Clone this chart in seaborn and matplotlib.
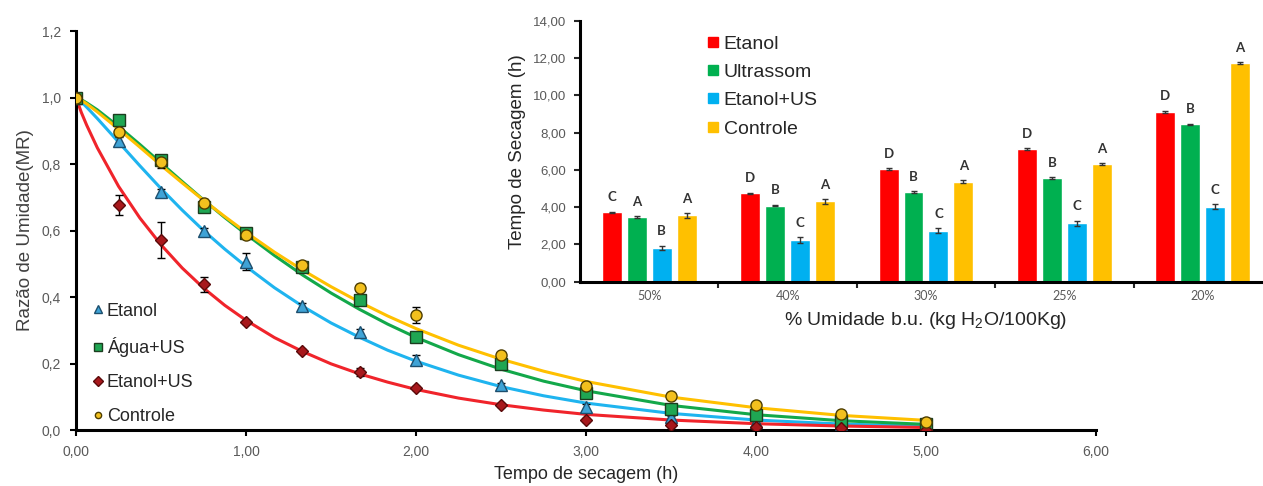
import numpy as np
import pandas as pd
import matplotlib
matplotlib.use("Agg")
import matplotlib.pyplot as plt
from matplotlib.lines import Line2D
from matplotlib.ticker import FuncFormatter, FixedLocator
import seaborn as sns

sns.set_style("white")
plt.rcParams['font.family'] = ['Liberation Sans', 'DejaVu Sans']
plt.rcParams['mathtext.default'] = 'regular'

# ---- drying curves (main chart) ----
t_pts = [0, 0.25, 0.5, 0.75, 1.0, 1.33, 1.67, 2.0, 2.5, 3.0, 3.5, 4.0, 4.5, 5.0]
etanol_mr = [1.0, 0.87, 0.715, 0.60, 0.506, 0.374, 0.294, 0.212, 0.134, 0.068, 0.038, 0.025, 0.015, 0.008]
etanol_err = [0, 0.012, 0.01, 0.008, 0.025, 0.008, 0.01, 0.015, 0.008, 0.01, 0.005, 0.005, 0.003, 0.003]
agua_mr = [1.0, 0.932, 0.812, 0.670, 0.593, 0.49, 0.39, 0.28, 0.20, 0.112, 0.062, 0.044, 0.026, 0.017]
agua_err = [0, 0.005, 0.01, 0.012, 0.01, 0.008, 0.01, 0.012, 0.01, 0.012, 0.008, 0.005, 0.005, 0.005]
etus_mr = [1.0, 0.678, 0.571, 0.438, 0.326, 0.239, 0.173, 0.127, 0.075, 0.030, 0.015, 0.008, 0.005, 0.0]
etus_err = [0, 0.03, 0.055, 0.022, 0.006, 0.006, 0.012, 0.006, 0.006, 0.006, 0.006, 0.004, 0.003, 0.003]
ctrl_mr = [1.0, 0.897, 0.807, 0.684, 0.586, 0.495, 0.428, 0.346, 0.226, 0.132, 0.103, 0.075, 0.048, 0.025]
ctrl_err = [0, 0.01, 0.02, 0.012, 0.01, 0.008, 0.01, 0.025, 0.01, 0.01, 0.008, 0.006, 0.006, 0.006]

# fitted curves
t_fit = [0, 0.03125, 0.0625, 0.125, 0.25, 0.375, 0.5, 0.625, 0.75, 0.875, 1.0, 1.167, 1.333,
         1.5, 1.667, 1.833, 2.0, 2.25, 2.5, 2.75, 3.0, 3.5, 4.0, 4.5, 5.0]
etus_fit = [1.0, 0.955, 0.917, 0.849, 0.733, 0.638, 0.557, 0.487, 0.427, 0.375, 0.33, 0.278, 0.236,
            0.199, 0.169, 0.144, 0.122, 0.096, 0.076, 0.060, 0.047, 0.030, 0.019, 0.012, 0.0076]
etanol_fit = [1.0, 0.987, 0.971, 0.937, 0.866, 0.795, 0.726, 0.661, 0.600, 0.544, 0.492, 0.428, 0.372,
              0.322, 0.279, 0.240, 0.207, 0.165, 0.1305, 0.103, 0.081, 0.050, 0.030, 0.018, 0.011]
agua_fit = [1.0, 0.9935, 0.984, 0.963, 0.913, 0.859, 0.803, 0.747, 0.692, 0.639, 0.589, 0.525, 0.466,
            0.412, 0.363, 0.3185, 0.2785, 0.2266, 0.183, 0.147, 0.118, 0.074, 0.046, 0.028, 0.017]
ctrl_fit = [1.0, 0.9916, 0.981, 0.957, 0.905, 0.851, 0.796, 0.743, 0.691, 0.642, 0.5945, 0.535, 0.481,
            0.431, 0.385, 0.343, 0.305, 0.255, 0.213, 0.177, 0.146, 0.099, 0.067, 0.044, 0.029]

# ---- drying time bars (inset) ----
moisture_levels = ["50%", "40%", "30%", "25%", "20%"]
treatments = ["Etanol", "Ultrassom", "Etanol+US", "Controle"]
etanol_h = [3.72, 4.74, 6.05, 7.12, 9.12]
ultrassom_h = [3.47, 4.08, 4.81, 5.55, 8.44]
etanol_us_h = [1.82, 2.24, 2.74, 3.13, 4.02]
controle_h = [3.56, 4.31, 5.37, 6.31, 11.72]
etanol_sd = [0.03, 0.03, 0.04, 0.04, 0.05]
ultrassom_sd = [0.03, 0.04, 0.03, 0.04, 0.03]
etanol_us_sd = [0.12, 0.15, 0.13, 0.15, 0.13]
controle_sd = [0.12, 0.12, 0.08, 0.06, 0.05]
etanol_lt = ["C", "D", "D", "D", "D"]
ultrassom_lt = ["A", "B", "B", "B", "B"]
etanol_us_lt = ["B", "C", "C", "C", "C"]
controle_lt = ["A", "A", "A", "A", "A"]

gray = "#595959"
calibri_like = ['Lato', 'DejaVu Sans']

fig = plt.figure(figsize=(12.63, 4.86), dpi=100)
ax = fig.add_axes([0.0602, 0.1152, 0.8076, 0.8210])

series = [
    ("Etanol", etanol_mr, etanol_err, etanol_fit, "#1fb4ef", "^", "#3fa3d6", "#1d4f6e", 8.5),
    ("Água+US", agua_mr, agua_err, agua_fit, "#13a84a", "s", "#1fa653", "#1b3d1f", 8),
    ("Etanol+US", etus_mr, etus_err, etus_fit, "#f0242b", "D", "#a8181c", "#5a0a0a", 6.5),
    ("Controle", ctrl_mr, ctrl_err, ctrl_fit, "#ffc000", "o", "#f2c01e", "#4d3d00", 8),
]
# curves
for name, mr, err, fit, lc, mk, mfc, mec, ms in series:
    sns.lineplot(x=t_fit, y=fit, color=lc, linewidth=2.2, ax=ax, zorder=2)
# points with error bars
for name, mr, err, fit, lc, mk, mfc, mec, ms in series:
    ax.errorbar(t_pts, mr, yerr=err, fmt="none", ecolor="black", elinewidth=1, capsize=3, zorder=3)
    ax.plot(t_pts, mr, ls="none", marker=mk, ms=ms, mfc=mfc, mec=mec, mew=1, zorder=4)

ax.set_xlim(0, 6)
ax.set_ylim(0, 1.2)
ax.set_xticks(np.arange(0, 7, 1))
ax.set_yticks(np.arange(0, 1.21, 0.2))
ax.xaxis.set_major_formatter(FuncFormatter(lambda v, p: f"{v:.2f}".replace(".", ",")))
ax.yaxis.set_major_formatter(FuncFormatter(lambda v, p: f"{v:.1f}".replace(".", ",")))
for s in ["top", "right"]:
    ax.spines[s].set_visible(False)
for s in ["left", "bottom"]:
    ax.spines[s].set_linewidth(2.2)
    ax.spines[s].set_color("black")
ax.tick_params(axis="both", direction="out", length=4, width=1.5, color="black",
               labelsize=10, labelcolor=gray)
ax.tick_params(axis="x", bottom=True, pad=7)
ax.tick_params(axis="y", left=True, pad=7)
ax.set_ylabel("Razão de Umidade(MR)", fontsize=13.5, color="#404040", labelpad=5)
ax.set_xlabel("Tempo de secagem (h)", fontsize=13, color="#262626", labelpad=5)

handles = [Line2D([], [], ls="none", marker=mk, ms=ms * 0.75, mfc=mfc, mec=mec, mew=1)
           for name, mr, err, fit, lc, mk, mfc, mec, ms in series]
handles[3] = Line2D([], [], ls="none", marker="o", ms=4.5, mfc="#f2c01e", mec="#4d3d00", mew=1)
ax.legend(handles, [s[0] for s in series], loc="lower left", bbox_to_anchor=(0.016, 0.012),
          frameon=False, fontsize=13, handlelength=0.6, handletextpad=0.2,
          labelspacing=0.95, borderpad=0, borderaxespad=0, labelcolor="#262626")

# ---- inset bar chart ----
ins = fig.add_axes([0.4592, 0.4204, 0.5479, 0.5370])
ins.patch.set_alpha(0)
bar_df = pd.DataFrame({
    "umidade": moisture_levels * 4,
    "tratamento": [t for t in treatments for _ in moisture_levels],
    "tempo": etanol_h + ultrassom_h + etanol_us_h + controle_h,
})
palette = {"Etanol": "#ff0000", "Ultrassom": "#00b050", "Etanol+US": "#00b0f0", "Controle": "#ffc000"}
sns.barplot(data=bar_df, x="umidade", y="tempo", hue="tratamento", order=moisture_levels,
            hue_order=treatments, palette=palette, width=0.72, gap=0.2, errorbar=None,
            saturation=1, ax=ins, legend=False)

sds = [etanol_sd, ultrassom_sd, etanol_us_sd, controle_sd]
letters = [etanol_lt, ultrassom_lt, etanol_us_lt, controle_lt]
for cont, sd, lt in zip(ins.containers, sds, letters):
    for bar, e, l in zip(cont, sd, lt):
        xc = bar.get_x() + bar.get_width() / 2
        h = bar.get_height()
        ins.errorbar(xc, h, yerr=e, fmt="none", ecolor="#333333", elinewidth=1, capsize=2.5, zorder=3)
        ins.text(xc, h + e + 0.45, l, ha="center", va="bottom", fontsize=9.5,
                 fontweight="bold", color="#333333", family=calibri_like)

ins.set_xlim(-0.5, 4.5)
ins.set_ylim(0, 14)
ins.set_yticks(np.arange(0, 15, 2))
ins.yaxis.set_major_formatter(FuncFormatter(lambda v, p: f"{v:.2f}".replace(".", ",")))
ins.xaxis.set_minor_locator(FixedLocator([0.5, 1.5, 2.5, 3.5]))
ins.tick_params(axis="x", which="major", length=0, labelsize=9, labelcolor=gray, pad=6)
ins.tick_params(axis="x", which="minor", bottom=True, direction="out", length=4, width=1.5)
ins.tick_params(axis="y", left=True, direction="out", length=4, width=1.5,
                labelsize=9.5, labelcolor=gray, pad=6)
for lb in ins.get_xticklabels():
    lb.set_family(calibri_like)
for s in ["top", "right"]:
    ins.spines[s].set_visible(False)
for s in ["left", "bottom"]:
    ins.spines[s].set_linewidth(2.2)
    ins.spines[s].set_color("black")
ins.set_ylabel("Tempo de Secagem (h)", fontsize=13.5, color="#262626", labelpad=5)
ins.set_xlabel("% Umidade b.u. (kg H$_2$O/100Kg)", fontsize=14, color="#262626", labelpad=6)

bar_handles = [Line2D([], [], ls="none", marker="s", ms=7, mfc=palette[t], mec=palette[t]) for t in treatments]
ins.legend(bar_handles, treatments, loc="upper left", bbox_to_anchor=(0.185, 0.945),
           frameon=False, fontsize=14, handlelength=0.5, handletextpad=0.3,
           labelspacing=0.55, borderpad=0, borderaxespad=0, labelcolor="#262626")

fig.savefig("out.png", dpi=100)
